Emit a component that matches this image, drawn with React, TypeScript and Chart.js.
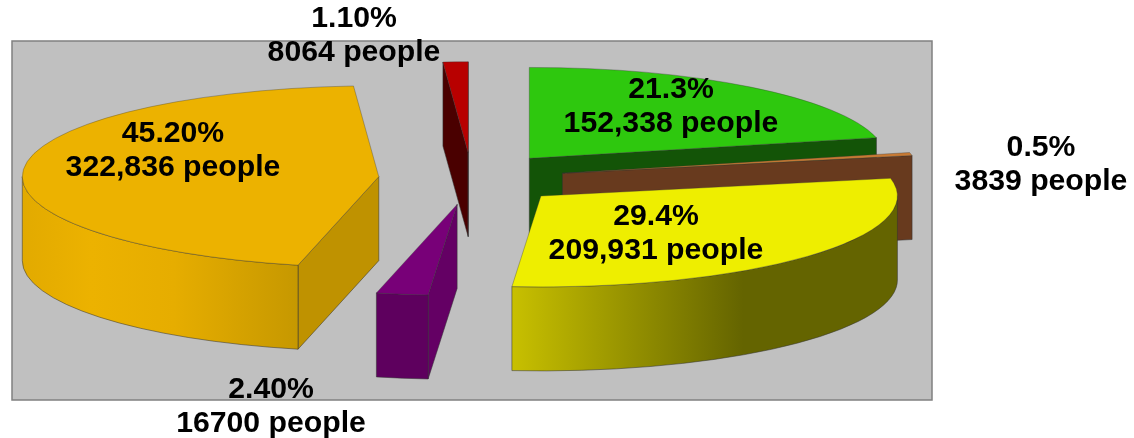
import React, { useEffect, useRef } from "react";
import { Chart, registerables } from "chart.js";

Chart.register(...registerables);

const categories = ["Green", "Brown", "Yellow", "Purple", "Orange", "Red"];
const people = [152338, 3839, 209931, 16700, 322836, 8064];
const percentLabels = ["21.3%", "0.5%", "29.4%", "2.40%", "45.20%", "1.10%"];
const peopleLabels = ["152,338 people", "3839 people", "209,931 people", "16700 people", "322,836 people", "8064 people"];

const topColors = ["#2EC80E", "#C87A34", "#EEEE00", "#780078", "#ECB200", "#B80000"];
const wallColors = ["#135407", "#683A1E", "#646400", "#640064", "#BF9200", "#4A0000"];
const curveStops: [number, string][][] = [
  [[0, "#135407"], [1, "#135407"]],
  [[0, "#683A1E"], [1, "#683A1E"]],
  [[0, "#C8C000"], [0.6, "#646400"], [1, "#646400"]],
  [[0, "#5E005E"], [1, "#5E005E"]],
  [[0, "#E2AA00"], [0.25, "#ECB200"], [0.55, "#E6AD00"], [1, "#C69800"]],
  [[0, "#4A0000"], [1, "#4A0000"]],
];
const labelAnchors = [
  [671, 98], [1041, 156], [656, 225], [271, 398], [173, 142], [354, 27],
];

const drawOrder = [5, 0, 1, 4, 3, 2];
const RADIUS = 356.5;
const SQUASH = 0.255;
const EXPLODE_X = 93;
const EXPLODE_Y = 26;
const DEPTH = 84;
const SHIFT_X = -0.5;
const SHIFT_Y = -41.8;
const LINE_GAP = 33.5;
const EDGE = "rgba(50,50,50,0.65)";

const pie3d = {
  id: "pie3d",
  beforeDraw(chart: any) {
    const { ctx, chartArea: a } = chart;
    ctx.save();
    ctx.fillStyle = "#C0C0C0";
    ctx.fillRect(a.left, a.top, a.width, a.height);
    ctx.strokeStyle = "#808080";
    ctx.lineWidth = 1.5;
    ctx.strokeRect(a.left, a.top, a.width, a.height);
    ctx.restore();
  },
  beforeDatasetsDraw(chart: any) {
    const { ctx } = chart;
    const arcs = chart.getDatasetMeta(0).data;
    for (const i of drawOrder) {
      const arc = arcs[i];
      const { x, y, startAngle, endAngle } = arc;
      const mid = (startAngle + endAngle) / 2;
      const tipX = x + SHIFT_X + Math.cos(mid) * EXPLODE_X;
      const tipY = y + SHIFT_Y + Math.sin(mid) * EXPLODE_Y;
      const R = arc.outerRadius;
      const pt = (t: number) => [tipX + R * Math.cos(t), tipY + R * SQUASH * Math.sin(t)];

      ctx.save();
      ctx.strokeStyle = EDGE;
      ctx.lineWidth = 0.8;

      const edges = [
        [[tipX, tipY], pt(startAngle)],
        [pt(endAngle), [tipX, tipY]],
      ];
      for (const [p, q] of edges) {
        if (q[0] - p[0] < 0) {
          ctx.beginPath();
          ctx.moveTo(p[0], p[1]);
          ctx.lineTo(q[0], q[1]);
          ctx.lineTo(q[0], q[1] + DEPTH);
          ctx.lineTo(p[0], p[1] + DEPTH);
          ctx.closePath();
          ctx.fillStyle = wallColors[i];
          ctx.fill();
          ctx.stroke();
        }
      }

      const from = Math.max(startAngle, 0);
      const to = Math.min(endAngle, Math.PI);
      if (to > from) {
        const left = pt(to)[0];
        const right = pt(from)[0];
        const grad = ctx.createLinearGradient(left, 0, right, 0);
        for (const [stop, color] of curveStops[i]) grad.addColorStop(stop, color);
        ctx.beginPath();
        ctx.ellipse(tipX, tipY, R, R * SQUASH, 0, from, to);
        ctx.ellipse(tipX, tipY + DEPTH, R, R * SQUASH, 0, to, from, true);
        ctx.closePath();
        ctx.fillStyle = grad;
        ctx.fill();
        ctx.stroke();
      }

      ctx.translate(tipX, tipY);
      ctx.scale(1, SQUASH);
      ctx.translate(-x, -y);
      arc.draw(ctx);
      ctx.restore();
    }
    return false;
  },
  afterDraw(chart: any) {
    const { ctx } = chart;
    ctx.save();
    ctx.fillStyle = "#000000";
    ctx.font = "bold 30.2px 'Liberation Sans'";
    ctx.textAlign = "center";
    ctx.textBaseline = "alphabetic";
    labelAnchors.forEach(([lx, ly], i) => {
      ctx.fillText(percentLabels[i], lx, ly);
      ctx.fillText(peopleLabels[i], lx, ly + LINE_GAP);
    });
    ctx.restore();
  },
};

export default function App() {
  const ref = useRef<HTMLCanvasElement>(null);
  useEffect(() => {
    const chart = new Chart(ref.current!, {
      type: "pie",
      data: {
        labels: categories,
        datasets: [
          {
            data: people,
            backgroundColor: topColors,
            borderColor: EDGE,
            borderWidth: 0.8,
            radius: RADIUS,
          } as any,
        ],
      },
      options: {
        responsive: false,
        animation: false,
        layout: { padding: { left: 12, top: 41, right: 202, bottom: 38 } },
        plugins: { legend: { display: false }, tooltip: { enabled: false } },
      },
      plugins: [pie3d],
    });
    return () => chart.destroy();
  }, []);
  return (
    <div style={{ position: "fixed", left: 0, top: 0, width: 1134, height: 438, background: "#fff" }}>
      <canvas ref={ref} width={1134} height={438} style={{ display: "block" }} />
    </div>
  );
}
